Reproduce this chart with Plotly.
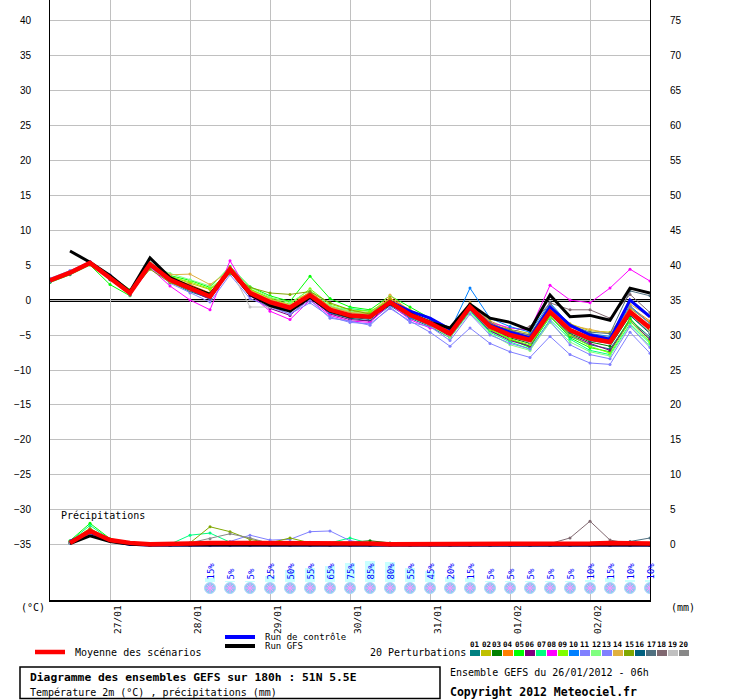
import plotly.graph_objects as go

# ---------------- data ----------------
hours = list(range(0, 181, 6))          # 26/01 06h + 0..180h
date_ticks = [18, 42, 66, 90, 114, 138, 162]
date_labels = ["27/01", "28/01", "29/01", "30/01", "31/01", "01/02", "02/02"]
temp_ticks = list(range(-35, 41, 5))
precip_ticks = list(range(0, 76, 5))

mean_temp = [2.8, 3.9, 5.3, 3.2, 1.0, 5.1, 2.9, 1.7, 0.5, 4.4, 1.0, -0.3, -1.1, 0.7, -1.4, -2.2,
             -2.4, -0.3, -2.1, -3.3, -4.8, -1.0, -3.8, -5.0, -5.7, -1.7, -4.3, -5.5, -6.0, -1.7, -4.0]
control_temp = [2.8, 3.9, 5.3, 3.2, 1.0, 5.0, 2.9, 1.6, 0.4, 4.3, 0.9, -0.5, -1.4, 0.5, -1.6, -2.2,
                -2.4, -0.2, -1.6, -2.6, -4.2, -1.2, -3.6, -4.6, -5.4, -1.0, -3.6, -5.0, -5.6, 0.0, -2.4]
gfs_temp = [None, 7.0, 5.4, 3.5, 1.2, 6.0, 3.2, 1.9, 0.8, 4.3, 0.8, -0.8, -1.6, 0.4, -1.6, -2.4,
            -2.4, -0.5, -2.0, -3.2, -4.0, -0.6, -2.6, -3.2, -4.3, 0.7, -2.4, -2.2, -2.9, 1.7, 1.0]

t01 = [2.6, 3.8, 5.2, 2.9, 0.8, 4.9, 2.6, 1.2, 0.2, 4.1, 0.6, -0.8, -1.6, 0.2, -1.9, -2.6, -3.0, -0.8, -2.6, -3.8, -5.4, -1.6, -4.4, -5.6, -6.6, -2.4, -5.2, -6.4, -7.0, -2.8, -5.3]
t02 = [2.9, 4.1, 5.4, 3.4, 1.3, 4.8, 3.4, 2.4, 1.5, 3.8, 1.5, 0.3, -0.3, 1.0, -0.9, -1.6, -1.8, 0.2, -1.4, -2.8, -4.2, -0.6, -3.0, -4.2, -4.8, -1.0, -3.4, -4.4, -4.6, -1.2, -3.2]
t03 = [2.7, 3.9, 5.3, 3.0, 0.9, 5.0, 3.0, 1.8, 0.6, 4.5, 1.1, -0.5, -1.4, 0.9, -1.2, -2.0, -2.2, -0.1, -1.8, -3.0, -4.6, -1.2, -4.0, -5.4, -6.2, -2.0, -4.8, -6.0, -6.6, -2.2, -4.6]
t04 = [3.0, 4.0, 5.4, 3.3, 1.2, 5.2, 3.2, 2.2, 1.0, 4.6, 1.4, 0.0, -0.8, 1.2, -1.0, -1.8, -2.0, 0.3, -1.6, -3.4, -5.0, -0.8, -3.4, -4.6, -5.2, -1.4, -3.8, -4.8, -5.4, -1.0, -3.0]
t05 = [2.5, 3.6, 5.0, 2.2, 0.6, 5.3, 3.5, 2.8, 1.8, 4.8, 1.9, 0.6, -0.2, 3.4, 0.2, -1.0, -1.4, 0.6, -1.0, -2.6, -4.0, -0.9, -4.2, -5.6, -6.8, -2.2, -5.4, -6.8, -7.4, -2.6, -5.8]
t06 = [2.8, 3.9, 5.3, 3.1, 0.9, 5.0, 2.7, 1.4, 0.1, 4.2, 0.6, -1.2, -2.2, 0.3, -2.0, -2.8, -3.0, -0.6, -2.4, -3.6, -5.2, -1.4, -4.4, -5.8, -6.6, -2.0, -5.0, -6.2, -7.2, -3.0, -5.6]
t07 = [2.9, 4.0, 5.2, 3.3, 1.1, 5.1, 3.0, 1.9, 0.9, 4.4, 1.2, -0.1, -1.0, 1.0, -1.4, -1.2, -1.6, -0.4, -2.2, -3.4, -5.0, -1.6, -4.6, -6.0, -7.0, -2.8, -5.6, -7.2, -7.8, -3.4, -6.2]
t08 = [2.6, 3.7, 5.5, 3.1, 0.7, 4.6, 2.0, 0.0, -1.4, 5.6, 0.8, -1.6, -2.8, 0.0, -2.2, -3.0, -3.2, -0.6, -2.8, -4.0, -4.4, -0.6, -3.2, -4.0, -4.3, 2.1, 0.0, -0.4, 1.7, 4.4, 2.7]
t09 = [2.7, 3.8, 5.1, 3.5, 1.5, 4.9, 3.3, 2.6, 1.6, 4.0, 1.6, 0.2, -0.6, 1.6, -0.6, -1.4, -1.6, 0.0, -1.8, -3.2, -4.6, -1.2, -4.2, -5.6, -6.4, -2.4, -5.0, -6.6, -7.6, -3.0, -6.0]
t10 = [2.8, 4.0, 5.3, 3.2, 1.0, 5.2, 2.8, 1.5, 0.2, 4.3, 0.8, -0.6, -1.6, 0.4, -1.8, -2.4, -2.6, -0.2, -2.6, -3.0, -4.4, 1.7, -2.6, -3.8, -4.6, -0.4, -3.6, -4.8, -5.2, -0.8, -3.4]
t11 = [3.1, 4.2, 5.5, 3.6, 1.4, 4.7, 2.4, 1.0, -0.3, 3.6, 0.2, -1.0, -2.0, -0.4, -2.4, -3.2, -3.4, -1.2, -3.0, -4.6, -6.6, -4.0, -6.2, -7.4, -8.2, -5.2, -7.8, -9.0, -9.2, -4.6, -7.6]
t12 = [2.7, 3.9, 5.2, 3.4, 1.2, 5.0, 3.8, 2.9, 2.0, 4.6, 1.8, 0.4, -0.4, 1.4, -0.8, -1.6, -2.2, -0.4, -2.0, -3.6, -5.4, -1.8, -4.8, -6.4, -7.2, -3.2, -6.0, -7.4, -8.0, -3.6, -6.6]
t13 = [2.9, 4.1, 5.4, 3.3, 1.1, 5.0, 3.0, 2.0, 0.8, 4.0, 0.9, -0.8, -2.0, 0.0, -2.6, -3.0, -3.6, -1.0, -3.2, -3.8, -5.8, -2.0, -5.0, -6.2, -7.0, -3.0, -6.4, -7.8, -8.4, -3.8, -6.8]
t14 = [2.8, 3.8, 5.2, 3.4, 1.3, 5.0, 3.6, 3.7, 2.2, 4.2, 1.3, 0.1, -0.7, 0.8, -1.0, -1.8, -2.0, 0.7, -1.6, -3.2, -4.4, -0.4, -3.2, -4.4, -5.0, -1.0, -3.6, -4.2, -4.8, -0.6, -2.4]
t15 = [2.7, 3.9, 5.3, 3.1, 1.0, 4.4, 2.5, 1.4, 1.0, 3.8, 1.8, 1.0, 0.8, 1.2, -0.4, -1.4, -2.0, 0.0, -1.8, -3.4, -4.6, -1.0, -3.6, -4.2, -5.6, -1.6, -4.2, -5.4, -6.0, -1.8, -4.4]
t16 = [2.6, 3.7, 5.1, 3.0, 0.8, 5.1, 2.8, 1.6, 0.3, 4.3, 0.9, -0.4, -1.2, 0.8, -1.4, -2.4, -2.8, -0.4, -2.2, -3.2, -4.8, -1.2, -4.0, -5.2, -6.0, -1.8, -4.6, -5.8, -6.2, -2.2, -4.8]
t17 = [2.9, 4.0, 5.4, 3.2, 1.0, 5.0, 2.9, 1.7, 0.4, 4.4, 1.0, -0.3, -1.2, 0.6, -1.6, -2.2, -2.4, -0.2, -2.0, -3.0, -4.6, -0.6, -3.4, -4.4, -5.0, -0.6, -3.6, -4.6, -4.8, 1.3, 0.6]
t18 = [2.8, 3.9, 5.3, 3.2, 1.0, 4.9, 2.8, 1.6, 0.5, 4.4, 1.1, -0.2, -1.0, 0.9, -1.2, -2.0, -2.6, -0.6, -2.4, -3.6, -4.8, -0.8, -3.2, -4.6, -3.8, -0.4, -1.4, -1.4, -2.6, 0.8, -1.8]
t19 = [2.7, 3.8, 5.2, 3.1, 0.9, 5.0, 2.7, 1.5, 0.4, 4.5, -1.0, -1.0, -1.4, 0.4, -1.6, -2.4, -2.6, -0.5, -2.2, -3.4, -5.0, -1.4, -4.0, -5.2, -6.0, -1.6, -4.4, -5.6, -6.2, -2.0, -4.6]
t20 = [2.8, 3.9, 5.3, 3.2, 0.9, 5.0, 2.9, 1.7, 0.6, 4.3, 1.0, -0.4, -1.2, 0.6, -1.4, -2.2, -2.6, -0.3, -2.2, -3.4, -4.8, -0.8, -3.6, -4.8, -5.4, -0.8, -3.8, -5.0, -5.6, -1.0, -3.4]

mean_precip = [None, 0.3, 2.0, 0.7, 0.3, 0.1, 0.1, 0.2, 0.3, 0.3, 0.3, 0.3, 0.2, 0.3, 0.3, 0.3,
               0.2, 0.1, 0.1, 0.1, 0.1, 0.1, 0.1, 0.1, 0.1, 0.1, 0.1, 0.2, 0.3, 0.2, 0.2]
control_precip = [None, 0.5, 1.8, 0.6, 0.1, 0.0, 0.0, 0.0, 0.0, 0.0, 0.0, 0.0, 0.0, 0.0, 0.0, 0.0,
                  0.0, 0.0, 0.0, 0.0, 0.0, 0.0, 0.0, 0.0, 0.0, 0.0, 0.0, 0.0, 0.0, 0.0, 0.0]
gfs_precip = [None, 0.2, 1.3, 0.5, 0.1, 0.0, 0.0, 0.0, 0.0, 0.0, 0.1, 0.1, 0.0, 0.0, 0.0, 0.0,
              0.0, 0.0, 0.0, 0.0, 0.0, 0.0, 0.0, 0.0, 0.0, 0.0, 0.0, 0.0, 0.0, 0.0, 0.0]

p01 = [None, 0.4, 2.2, 0.8, 0.2, 0.1, 0, 0, 0, 0, 0, 0, 0, 0, 0, 0, 0, 0, 0, 0, 0, 0, 0, 0, 0, 0, 0, 0, 0, 0, 0]
p02 = [None, 0.5, 2.4, 0.7, 0.2, 0, 0, 0.1, 0.3, 0.2, 0.1, 0, 0.2, 0.1, 0, 0, 0, 0, 0, 0, 0, 0, 0, 0, 0, 0, 0, 0, 0, 0, 0]
p03 = [None, 0.3, 2.0, 0.7, 0.2, 0, 0, 0, 0, 0.1, 0.2, 0.1, 0.1, 0.3, 0.2, 0.4, 0.6, 0.3, 0, 0, 0, 0, 0, 0, 0, 0, 0, 0, 0, 0, 0]
p04 = [None, 0.4, 2.1, 0.6, 0.2, 0, 0, 0, 0.1, 0.2, 0.1, 0, 0, 0, 0, 0, 0, 0.1, 0, 0, 0, 0, 0, 0.1, 0, 0, 0, 0, 0, 0, 0]
p05 = [None, 0.6, 3.1, 0.9, 0.3, 0, 0, 0, 0.2, 0.1, 0, 0, 0, 0, 0, 0, 0, 0, 0, 0, 0, 0, 0, 0, 0, 0, 0, 0, 0, 0, 0]
p06 = [None, 0.3, 2.0, 0.8, 0.2, 0, 0, 0, 0, 0, 0, 0, 0, 0, 0, 0, 0, 0, 0, 0, 0, 0, 0, 0, 0, 0, 0, 0, 0, 0, 0]
p07 = [None, 0.5, 2.8, 0.8, 0.2, 0, 0.1, 1.4, 1.7, 0.4, 0.2, 0, 0, 0.1, 0.3, 1.0, 0.2, 0, 0, 0, 0, 0, 0, 0, 0, 0, 0, 0, 0, 0, 0]
p08 = [None, 0.4, 2.3, 0.7, 0.2, 0, 0, 0, 0, 0, 0, 0, 0, 0, 0, 0, 0, 0, 0, 0, 0, 0, 0, 0, 0, 0, 0, 0, 0, 0, 0]
p09 = [None, 0.4, 2.2, 0.7, 0.2, 0, 0, 0, 0.1, 0.2, 0, 0, 0, 0, 0, 0, 0, 0, 0, 0, 0, 0, 0, 0, 0, 0, 0, 0, 0, 0, 0]
p10 = [None, 0.3, 1.9, 0.6, 0.1, 0, 0, 0, 0, 0, 0, 0, 0, 0, 0, 0, 0, 0, 0, 0, 0, 0, 0, 0, 0, 0, 0, 0, 0, 0, 0]
p11 = [None, 0.4, 2.1, 0.7, 0.2, 0, 0, 0, 0.2, 0.5, 1.4, 0.7, 0.8, 1.9, 2.0, 0.6, 0.2, 0, 0, 0, 0, 0, 0, 0, 0, 0, 0, 0, 0, 0, 0]
p12 = [None, 0.4, 2.2, 0.8, 0.2, 0, 0, 0, 0, 0.2, 0.3, 0.1, 0, 0, 0.1, 0.2, 0, 0, 0, 0, 0, 0, 0, 0, 0, 0, 0, 0, 0, 0, 0]
p13 = [None, 0.3, 1.8, 0.6, 0.2, 0, 0, 0, 0, 0.1, 0.3, 0.2, 0.1, 0.4, 0.3, 0.1, 0, 0, 0, 0, 0, 0, 0, 0, 0, 0, 0, 0.1, 0.3, 0.3, 0.1]
p14 = [None, 0.4, 2.0, 0.7, 0.2, 0, 0, 0, 0.1, 0.3, 0.1, 0, 0, 0, 0, 0, 0, 0, 0, 0, 0, 0, 0, 0, 0, 0, 0, 0, 0, 0, 0]
p15 = [None, 0.5, 2.3, 0.8, 0.2, 0, 0, 0.3, 2.6, 1.9, 0.8, 0.3, 1.0, 0.3, 0.1, 0, 0, 0, 0, 0, 0, 0, 0, 0, 0, 0, 0, 0, 0, 0, 0]
p16 = [None, 0.3, 1.9, 0.7, 0.2, 0, 0, 0, 0, 0, 0, 0, 0, 0, 0, 0, 0, 0, 0, 0, 0, 0, 0, 0, 0, 0, 0, 0, 0, 0, 0]
p17 = [None, 0.4, 2.0, 0.7, 0.2, 0, 0, 0, 0, 0, 0, 0, 0, 0, 0, 0, 0, 0, 0, 0, 0, 0, 0, 0, 0, 0, 0, 0, 0.2, 0.5, 1.0]
p18 = [None, 0.4, 2.1, 0.7, 0.2, 0, 0, 0, 0, 0, 0, 0, 0, 0, 0, 0, 0, 0, 0, 0, 0, 0, 0, 0, 0, 0.2, 1.0, 3.4, 0.7, 0.2, 0.2]
p19 = [None, 0.3, 1.9, 0.6, 0.2, 0, 0, 0, 0, 0, 0, 0, 0, 0, 0, 0, 0, 0, 0, 0, 0, 0, 0, 0, 0, 0, 0, 0, 0, 0, 0]
p20 = [None, 0.4, 2.0, 0.7, 0.2, 0, 0, 0.3, 0.9, 1.6, 1.0, 0.2, 0, 0, 0, 0, 0, 0, 0, 0, 0, 0, 0, 0, 0, 0, 0, 0, 0, 0, 0]

pert_labels = ["01", "02", "03", "04", "05", "06", "07", "08", "09", "10",
               "11", "12", "13", "14", "15", "16", "17", "18", "19", "20"]
pert_colors = ["#008080", "#c0c000", "#008000", "#ff8000", "#00ff00", "#800080", "#00ff80", "#ff00ff",
               "#80ff00", "#0080ff", "#8080ff", "#80ff80", "#8080ff", "#e0b040", "#80a800", "#006080",
               "#507080", "#806870", "#c0c0c0", "#888888"]

snow_hours = list(range(48, 181, 6))
snow_pct = [15, 5, 5, 25, 50, 55, 65, 75, 85, 80, 55, 45, 20, 15, 5, 5, 5, 5, 5, 10, 15, 10, 10]

pert_temps = [t01, t02, t03, t04, t05, t06, t07, t08, t09, t10,
              t11, t12, t13, t14, t15, t16, t17, t18, t19, t20]
pert_precips = [p01, p02, p03, p04, p05, p06, p07, p08, p09, p10,
                p11, p12, p13, p14, p15, p16, p17, p18, p19, p20]

# ---------------- styling helpers ----------------
MONO = "DejaVu Sans Mono"
SANS = "Liberation Sans"
PL, PR, PT, PB = 50, 650, 0, 600   # plot area in pixels


def px_x(p):
    return (p - PL) / (PR - PL)


def px_y(p):
    return (PB - p) / (PB - PT)


fig = go.Figure()

# perturbations
for col, tv, pv in zip(pert_colors, pert_temps, pert_precips):
    fig.add_trace(go.Scatter(x=hours, y=tv, mode="lines+markers", yaxis="y",
                             line=dict(color=col, width=1), marker=dict(size=3, color=col)))
    fig.add_trace(go.Scatter(x=hours, y=pv, mode="lines+markers", yaxis="y2",
                             line=dict(color=col, width=1), marker=dict(size=3, color=col)))

# control, GFS, mean
fig.add_trace(go.Scatter(x=hours, y=control_temp, mode="lines", yaxis="y",
                         line=dict(color="#0000ff", width=3)))
fig.add_trace(go.Scatter(x=hours, y=control_precip, mode="lines", yaxis="y2",
                         line=dict(color="#0000ff", width=3)))
fig.add_trace(go.Scatter(x=hours, y=gfs_temp, mode="lines", yaxis="y",
                         line=dict(color="#000000", width=3)))
fig.add_trace(go.Scatter(x=hours, y=gfs_precip, mode="lines", yaxis="y2",
                         line=dict(color="#000000", width=3)))
fig.add_trace(go.Scatter(x=hours, y=mean_temp, mode="lines", yaxis="y",
                         line=dict(color="#ff0000", width=4.5)))
fig.add_trace(go.Scatter(x=hours, y=mean_precip, mode="lines", yaxis="y2",
                         line=dict(color="#ff0000", width=4.5)))

# snow probability bars + icons
fig.add_trace(go.Bar(x=snow_hours, y=snow_pct, yaxis="y3", width=3,
                     marker=dict(color="#c8ffff", line=dict(width=0))))
icon_level = -24
fig.add_trace(go.Scatter(x=snow_hours, y=[icon_level] * len(snow_hours), yaxis="y3", mode="markers",
                         marker=dict(symbol="circle", size=11, color="#8cc8f0",
                                     line=dict(color="#a8d8f8", width=1))))
fig.add_trace(go.Scatter(x=snow_hours, y=[icon_level] * len(snow_hours), yaxis="y3", mode="markers",
                         marker=dict(symbol="asterisk-open", size=8,
                                     line=dict(color="#ffffff", width=1))))

annotations = []
for h, v in zip(snow_hours, snow_pct):
    annotations.append(dict(x=h, y=0, xref="x", yref="y3", text=f"{v}%", textangle=-90,
                            xanchor="center", yanchor="bottom", showarrow=False,
                            font=dict(family=MONO, size=9, color="#0000ff")))


def txt(x, y, s, size=10, bold=False, anchor="left"):
    annotations.append(dict(x=px_x(x), y=px_y(y), xref="paper", yref="paper",
                            text=f"<b>{s}</b>" if bold else s, showarrow=False,
                            xanchor=anchor, yanchor="middle",
                            font=dict(family=MONO, size=size, color="black")))


txt(59, 515, "Précipitations")
txt(19, 607, "(°C)")
txt(669, 607, "(mm)")
txt(73, 652, "Moyenne des scénarios")
txt(263, 637, "Run de contrôle", size=9)
txt(263, 646.5, "Run GFS", size=9)
txt(368, 652, "20 Perturbations")
txt(28, 677, "Diagramme des ensembles GEFS sur 180h : 51N 5.5E", size=11.3, bold=True)
txt(28, 692, "Température 2m (°C) , précipitations (mm)")
txt(448, 672, "Ensemble GEFS du 26/01/2012 - 06h")
txt(448, 692, "Copyright 2012 Meteociel.fr", size=11.5, bold=True)

shapes = []
# double zero line: black, white, black
for off, colr in ((0.5, "black"), (-0.5, "white"), (-1.5, "black")):
    shapes.append(dict(type="line", xref="paper", x0=0, x1=1, yref="y", ysizemode="pixel",
                       yanchor=0, y0=off, y1=off, line=dict(color=colr, width=1), layer="between"))


def hline(x0, x1, y, color, w):
    shapes.append(dict(type="line", xref="paper", yref="paper", x0=px_x(x0), x1=px_x(x1),
                       y0=px_y(y), y1=px_y(y), line=dict(color=color, width=w)))


hline(35, 65, 652, "#ff0000", 4.5)
hline(225, 255, 637, "#0000ff", 4)
hline(225, 255, 646, "#000000", 4)

# perturbation swatches
for i, (lab, col) in enumerate(zip(pert_labels, pert_colors)):
    x0 = 470 + 11 * i
    shapes.append(dict(type="rect", xref="paper", yref="paper", x0=px_x(x0), x1=px_x(x0 + 10),
                       y0=px_y(656), y1=px_y(650), fillcolor=col, line=dict(width=0)))
    annotations.append(dict(x=px_x(x0 + 5), y=px_y(644), xref="paper", yref="paper", text=f"<b>{lab}</b>",
                            showarrow=False, xanchor="center", yanchor="middle",
                            font=dict(family=MONO, size=7.5, color="black")))

# bottom caption box
shapes.append(dict(type="rect", xref="paper", yref="paper", x0=px_x(20), x1=px_x(440),
                   y0=px_y(698.5), y1=px_y(667), line=dict(color="black", width=1.5)))

fig.update_layout(
    width=740, height=700,
    margin=dict(l=PL, r=740 - PR, t=PT, b=700 - PB, pad=0),
    paper_bgcolor="white", plot_bgcolor="white",
    showlegend=False, bargap=0,
    xaxis=dict(range=[0, 180], tickmode="array", tickvals=date_ticks, ticktext=date_labels,
               tickangle=-90, showgrid=True, gridcolor="#c0c0c0", gridwidth=1,
               showline=True, linecolor="black", linewidth=1.5, ticks="", zeroline=False,
               tickfont=dict(family=MONO, size=9.5, color="black"),
               ticklabelshift=8, ticklabelstandoff=0),
    yaxis=dict(range=[-42.86, 42.86], tickmode="array", tickvals=temp_ticks,
               showgrid=True, gridcolor="#c0c0c0", gridwidth=1, zeroline=False,
               showline=True, linecolor="black", linewidth=1, ticks="",
               ticklabelstandoff=16, tickfont=dict(family=SANS, size=10, color="black")),
    yaxis2=dict(range=[-7.86, 77.86], overlaying="y", side="right", anchor="x",
                tickmode="array", tickvals=precip_ticks, showgrid=False, zeroline=False,
                showline=True, linecolor="black", linewidth=1, ticks="",
                ticklabelstandoff=17, tickfont=dict(family=SANS, size=10, color="black")),
    yaxis3=dict(range=[-72, 2328], overlaying="y", visible=False),
    annotations=annotations,
    shapes=shapes,
)

fig.write_html("out.html", config={"displayModeBar": False, "staticPlot": True},
               post_script="document.body.style.margin='0px';document.body.style.overflow='hidden';")
